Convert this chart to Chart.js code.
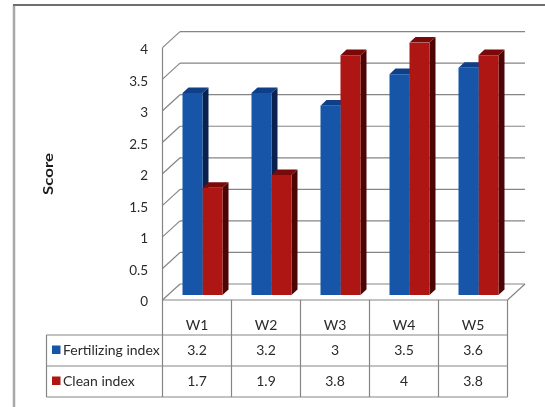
<!DOCTYPE html>
<html>
<head>
<meta charset="utf-8">
<script src="https://cdn.jsdelivr.net/npm/chart.js@4.4.1/dist/chart.umd.min.js"></script>
<style>
  html, body { margin: 0; padding: 0; background: #ffffff; }
  #wrap { position: relative; width: 545px; height: 407px; }
  canvas { display: block; }
</style>
</head>
<body>
<div id="wrap"><canvas id="chart" width="545" height="407"></canvas></div>
<script>
// ---- data ----
const categories = ['W1', 'W2', 'W3', 'W4', 'W5'];
const fertilizingIndex = [3.2, 3.2, 3, 3.5, 3.6];
const cleanIndex = [1.7, 1.9, 3.8, 4, 3.8];
const seriesNames = ['Fertilizing index', 'Clean index'];
const yTickLabels = ['0', '0.5', '1', '1.5', '2', '2.5', '3', '3.5', '4'];
const axisTitle = 'Score';

// ---- styling ----
const frontColors = ['#1655a7', '#ad1613'];
const topColors = ['#0f3f88', '#7a0a0a'];
const sideColors = ['#08214f', '#4d0404'];
const FONT = 'Lato, "Open Sans", "DejaVu Sans", sans-serif';
const LINE = '#858585';
const TEXT = '#2a2a2a';

// pseudo-3D geometry (pixels)
const FX = 5.5, FY = 5;        // bar front face sits this far behind the front plane
const WDX = 17.5, WDY = 16;    // depth of the back wall
const BDX = 6, BDY = 5.6;      // depth of each bar
const ROW_H = [35, 31, 31];    // data table rows: header, series 1, series 2
const LEGEND_LEFT = 46.5;

function line(ctx, x1, y1, x2, y2) {
  ctx.beginPath(); ctx.moveTo(x1, y1); ctx.lineTo(x2, y2); ctx.stroke();
}
function poly(ctx, pts, color) {
  ctx.beginPath();
  ctx.moveTo(pts[0][0], pts[0][1]);
  for (let i = 1; i < pts.length; i++) ctx.lineTo(pts[i][0], pts[i][1]);
  ctx.closePath();
  ctx.fillStyle = color;
  ctx.fill();
}

const box3d = {
  id: 'box3d',
  beforeDraw(chart) {
    const { ctx } = chart;
    ctx.save();
    // outer frame
    ctx.strokeStyle = '#a8a8a8'; ctx.lineWidth = 2.5;
    line(ctx, 14, 5, 14, 407);
    ctx.strokeStyle = '#6e6e6e'; ctx.lineWidth = 2;
    line(ctx, 13, 5, 545, 5);
    ctx.restore();
  },
  beforeDatasetsDraw(chart) {
    const { ctx, chartArea: a, scales: { y } } = chart;
    const fl = a.left - FX, fr = a.right - FX;
    ctx.save();
    ctx.strokeStyle = LINE; ctx.lineWidth = 1.2;
    // walls: left side diagonals + back wall gridlines
    y.ticks.forEach(t => {
      const yf = y.getPixelForValue(t.value) + FY;
      line(ctx, fl, yf, fl + WDX, yf - WDY);
      line(ctx, fl + WDX, yf - WDY, fr + WDX, yf - WDY);
    });
    const y0 = y.getPixelForValue(0) + FY;
    const yMax = y.getPixelForValue(y.max) + FY;
    line(ctx, fl, y0, fl, yMax);
    // floor front edge and right edge
    line(ctx, fl, y0, fr, y0);
    line(ctx, fr, y0, fr + WDX, y0 - WDY);

    // side and top faces of the bars
    chart.data.datasets.forEach((ds, di) => {
      const meta = chart.getDatasetMeta(di);
      meta.data.forEach(bar => {
        const p = bar.getProps(['x', 'y', 'base', 'width'], true);
        const l = p.x - p.width / 2, r = p.x + p.width / 2;
        poly(ctx, [[r, p.y], [r + BDX, p.y - BDY], [r + BDX, p.base - BDY], [r, p.base]], sideColors[di]);
        poly(ctx, [[l, p.y], [r, p.y], [r + BDX, p.y - BDY], [l + BDX, p.y - BDY]], topColors[di]);
      });
    });
    ctx.restore();
  },
  afterDraw(chart) {
    const { ctx, chartArea: a, scales: { x, y } } = chart;
    const fl = a.left - FX, fr = a.right - FX;
    const step = (a.right - a.left) / categories.length;
    const y0 = y.getPixelForValue(0) + FY;
    const r1 = y0 + ROW_H[0], r2 = r1 + ROW_H[1], r3 = r2 + ROW_H[2];

    ctx.save();
    ctx.strokeStyle = LINE; ctx.lineWidth = 1.2;
    // data table grid
    for (let i = 0; i <= categories.length; i++) {
      const xx = fl + i * step;
      line(ctx, xx, y0, xx, r3);
    }
    line(ctx, LEGEND_LEFT, r1, LEGEND_LEFT, r3);
    [r1, r2, r3].forEach(yy => line(ctx, LEGEND_LEFT, yy, fr, yy));

    // header and values
    ctx.fillStyle = TEXT;
    ctx.font = '14px ' + FONT;
    ctx.textAlign = 'center';
    ctx.textBaseline = 'middle';
    const rows = [fertilizingIndex, cleanIndex];
    categories.forEach((c, i) => {
      const cx = x.getPixelForValue(i) - FX;
      ctx.fillText(c, cx, y0 + ROW_H[0] * 0.72);
      ctx.fillText(String(rows[0][i]), cx, (r1 + r2) / 2);
      ctx.fillText(String(rows[1][i]), cx, (r2 + r3) / 2);
    });

    // legend keys
    ctx.textAlign = 'left';
    [[r1, r2], [r2, r3]].forEach(([t, b], si) => {
      const cy = (t + b) / 2;
      ctx.fillStyle = frontColors[si];
      ctx.fillRect(LEGEND_LEFT + 5.5, cy - 5, 8.5, 8.5);
      ctx.fillStyle = TEXT;
      ctx.fillText(seriesNames[si], LEGEND_LEFT + 16.5, cy);
    });

    // axis title
    ctx.save();
    ctx.translate(48, 174);
    ctx.rotate(-Math.PI / 2);
    ctx.scale(1.2, 1);
    ctx.font = 'bold 14px ' + FONT;
    ctx.textAlign = 'center';
    ctx.fillStyle = '#1a1a1a';
    ctx.fillText(axisTitle, 0, 0);
    ctx.restore();

    ctx.restore();
  }
};

new Chart(document.getElementById('chart'), {
  type: 'bar',
  data: {
    labels: categories,
    datasets: [
      { label: seriesNames[0], data: fertilizingIndex, backgroundColor: frontColors[0] },
      { label: seriesNames[1], data: cleanIndex, backgroundColor: frontColors[1] }
    ]
  },
  options: {
    responsive: false,
    animation: false,
    devicePixelRatio: 1,
    layout: { padding: { top: 42.6, right: 32, bottom: 112, left: 0 } },
    datasets: { bar: { categoryPercentage: 40 / 69, barPercentage: 1, borderWidth: 0 } },
    plugins: { legend: { display: false }, tooltip: { enabled: false }, title: { display: false } },
    scales: {
      x: { display: false, offset: true },
      y: {
        min: 0, max: 4,
        ticks: {
          stepSize: 0.5,
          callback: (v, i) => yTickLabels[i],
          padding: 20,
          labelOffset: 7,
          color: TEXT,
          font: { family: FONT, size: 13.5 }
        },
        grid: { display: false, drawTicks: false },
        border: { display: false },
        afterFit: s => { s.width = 168; }
      }
    }
  },
  plugins: [box3d]
});
</script>
</body>
</html>
